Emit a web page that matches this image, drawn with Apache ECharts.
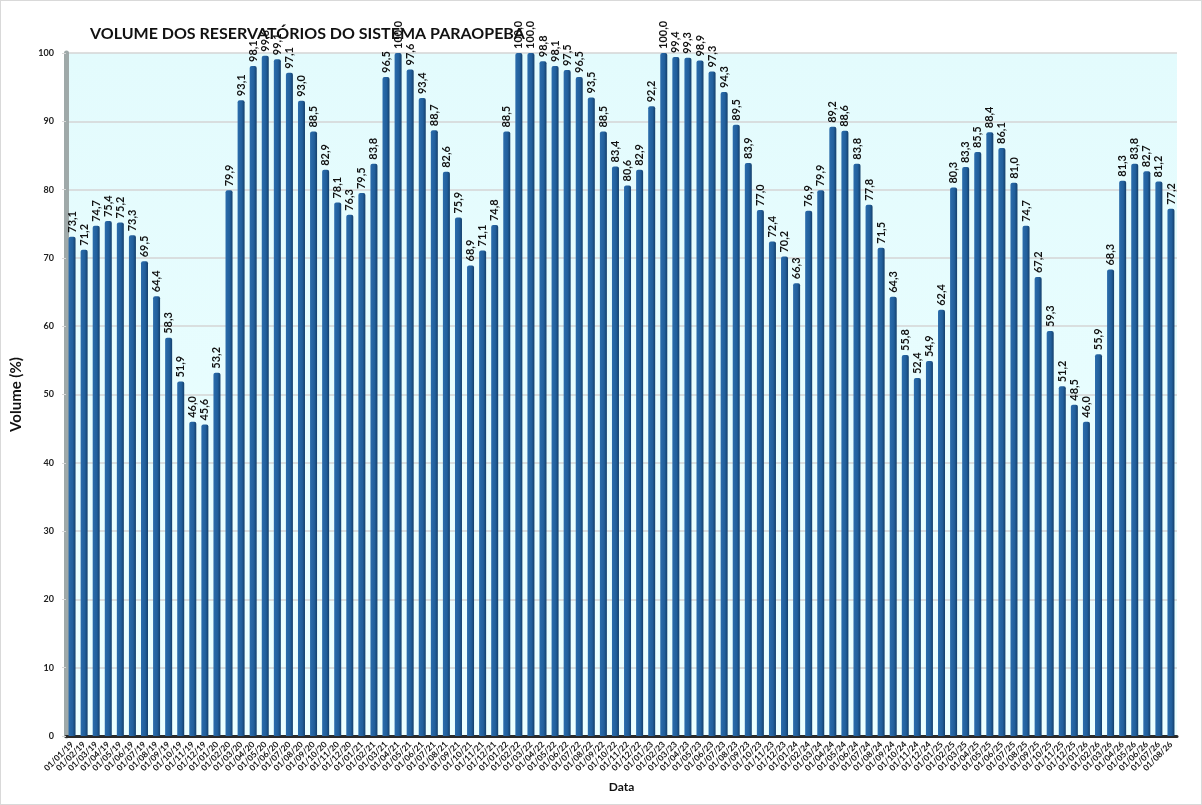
<!DOCTYPE html>
<html>
<head>
<meta charset="utf-8">
<script src="https://cdn.jsdelivr.net/npm/echarts@6/dist/echarts.min.js"></script>
<style>
  html, body { margin: 0; padding: 0; background: #fff; }
  #chart { width: 1200px; height: 803px; border: 1px solid #d9d9d9; }
</style>
</head>
<body>
<div id="chart"></div>
<script>
// monthly dates 01/01/19 .. 01/08/26
const years = ['19', '20', '21', '22', '23', '24', '25', '26']
const months = ['01', '02', '03', '04', '05', '06', '07', '08', '09', '10', '11', '12']

const categories = []
years.forEach(function (y) {
  months.forEach(function (m) {
    if (y === '26' && Number(m) > 8) return
    categories.push('01/' + m + '/' + y)
  })
})

// volume (%) per month
const vol2019 = [73.1, 71.2, 74.7, 75.4, 75.2, 73.3, 69.5, 64.4, 58.3, 51.9, 46.0, 45.6]
const vol2020 = [53.2, 79.9, 93.1, 98.1, 99.6, 99.1, 97.1, 93.0, 88.5, 82.9, 78.1, 76.3]
const vol2021 = [79.5, 83.8, 96.5, 100.0, 97.6, 93.4, 88.7, 82.6, 75.9, 68.9, 71.1, 74.8]
const vol2022 = [88.5, 100.0, 100.0, 98.8, 98.1, 97.5, 96.5, 93.5, 88.5, 83.4, 80.6, 82.9]
const vol2023 = [92.2, 100.0, 99.4, 99.3, 98.9, 97.3, 94.3, 89.5, 83.9, 77.0, 72.4, 70.2]
const vol2024 = [66.3, 76.9, 79.9, 89.2, 88.6, 83.8, 77.8, 71.5, 64.3, 55.8, 52.4, 54.9]
const vol2025 = [62.4, 80.3, 83.3, 85.5, 88.4, 86.1, 81.0, 74.7, 67.2, 59.3, 51.2, 48.5]
const vol2026 = [46.0, 55.9, 68.3, 81.3, 83.8, 82.7, 81.2, 77.2]

const volume = [].concat(vol2019, vol2020, vol2021, vol2022, vol2023, vol2024, vol2025, vol2026)

const FONT = 'Lato'

const chart = echarts.init(document.getElementById('chart'))

chart.setOption({
  backgroundColor: '#ffffff',
  animation: false,
  title: {
    text: 'VOLUME DOS RESERVATÓRIOS DO SISTEMA PARAOPEBA',
    left: 84,
    top: 20,
    textStyle: { fontFamily: FONT, fontSize: 16, fontWeight: 'bold', color: '#111' }
  },
  grid: {
    left: 62,
    right: 24,
    top: 52,
    bottom: 68,
    show: true,
    borderWidth: 0,
    backgroundColor: new echarts.graphic.LinearGradient(0, 0, 0, 1, [
      { offset: 0, color: '#e3fbfd' },
      { offset: 1, color: '#ecffff' }
    ])
  },
  xAxis: {
    type: 'category',
    data: categories,
    name: 'Data',
    nameLocation: 'middle',
    nameGap: 45,
    nameTextStyle: { fontFamily: FONT, fontSize: 12, fontWeight: 'bold', color: '#111' },
    axisLine: { lineStyle: { color: '#2a2a2a', width: 3 } },
    axisTick: { show: false },
    axisLabel: {
      interval: 0,
      rotate: 45,
      margin: 7,
      fontFamily: FONT,
      fontSize: 8.5,
      fontWeight: 'bold',
      color: '#111'
    }
  },
  yAxis: {
    type: 'value',
    min: 0,
    max: 100,
    interval: 10,
    name: 'Volume (%)',
    nameLocation: 'middle',
    nameRotate: 90,
    nameGap: 42,
    nameTextStyle: { fontFamily: FONT, fontSize: 15, fontWeight: 'bold', color: '#111' },
    axisLine: { show: true, lineStyle: { color: '#9fa9a9', width: 5 } },
    axisTick: { show: true, length: 4, lineStyle: { color: '#d8d8d8' } },
    axisLabel: { margin: 12, fontFamily: FONT, fontSize: 9, fontWeight: 'bold', color: '#222' },
    splitLine: { lineStyle: { color: '#d4d4d4', width: 1.5 } }
  },
  series: [{
    type: 'bar',
    data: volume,
    barWidth: 7,
    itemStyle: {
      borderRadius: [2, 2, 0, 0],
      color: new echarts.graphic.LinearGradient(0, 0, 1, 0, [
        { offset: 0, color: '#2b6cab' },
        { offset: 0.6, color: '#215f9c' },
        { offset: 1, color: '#143f6b' }
      ])
    },
    label: {
      show: true,
      position: 'top',
      rotate: 90,
      align: 'left',
      verticalAlign: 'middle',
      distance: 4,
      fontFamily: FONT,
      fontSize: 11,
      fontWeight: 'bold',
      color: '#111',
      formatter: function (p) { return p.value.toFixed(1).replace('.', ',') }
    }
  }]
})
</script>
</body>
</html>
